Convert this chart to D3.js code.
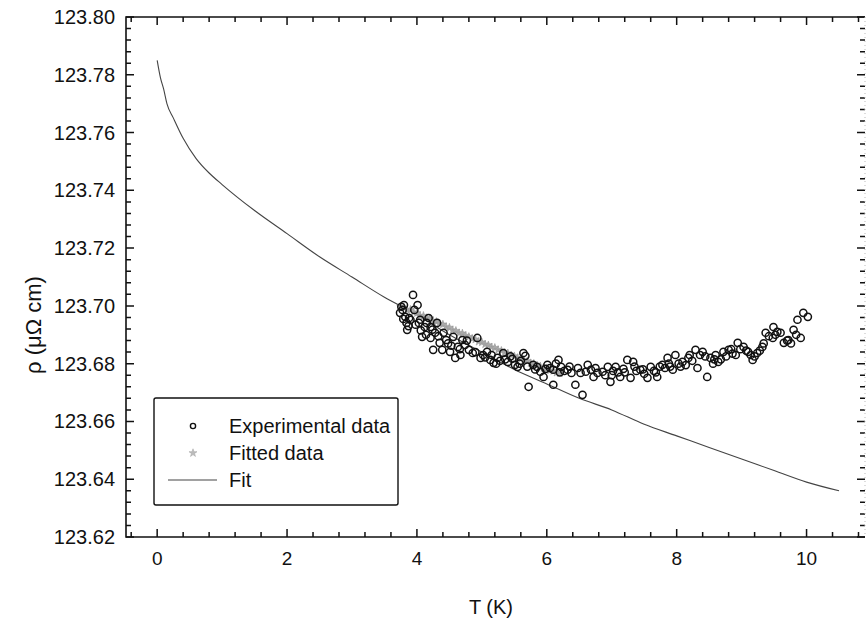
<!DOCTYPE html>
<html>
<head>
<meta charset="utf-8">
<script src="https://cdn.jsdelivr.net/npm/d3@7/dist/d3.min.js"></script>
<style>
  html, body { margin: 0; padding: 0; background: #fff; }
  svg { display: block; font-family: "Liberation Sans", Arial, sans-serif; }
</style>
</head>
<body>
<svg id="chart" width="866" height="623"></svg>
<script>
// Resistivity vs temperature: measured points, points used in the fit, and the fit curve.

const expT = [3.74, 3.76, 3.78, 3.80, 3.82, 3.84, 3.85, 3.88, 3.90, 3.94, 3.96, 4.01, 4.03, 4.05, 4.08,
  4.12, 4.15, 4.18, 4.21, 4.21, 4.25, 4.28, 4.31, 4.35, 4.39, 4.41, 4.45, 4.51, 4.56, 4.59, 4.63, 4.67,
  4.70, 4.74, 4.80, 4.86, 4.93, 4.98, 5.02, 5.08, 5.13, 5.18, 5.24, 5.28, 5.33, 5.40, 5.47, 5.51, 5.55,
  5.60, 5.64, 5.67, 5.72, 5.79, 5.85, 5.90, 5.95, 6.01, 6.05, 6.10, 6.10, 6.14, 6.18, 6.22, 6.27, 6.32,
  6.38, 6.44, 6.48, 6.52, 6.55, 6.63, 6.68, 6.72, 6.78, 6.86, 6.90, 6.94, 6.98, 7.02, 7.06, 7.10, 7.13,
  7.18, 7.24, 7.29, 7.33, 7.38, 7.44, 7.50, 7.55, 7.60, 7.65, 7.70, 7.74, 7.78, 7.82, 7.86, 7.90, 7.94,
  7.98, 8.03, 8.09, 8.14, 8.18, 8.24, 8.29, 8.32, 8.36, 8.40, 8.47, 8.52, 8.56, 8.60, 8.64, 8.68, 8.72,
  8.76, 8.80, 8.86, 8.91, 8.94, 8.98, 9.03, 9.07, 9.10, 9.17, 9.20, 9.24, 9.28, 9.32, 9.37, 9.42, 9.48,
  9.49, 9.55, 9.60, 9.65, 9.72, 9.76, 9.80, 9.86, 9.91, 9.95, 10.02,
  3.79, 3.87, 3.98, 4.06, 4.14, 4.24, 4.33, 4.48, 4.53, 4.66, 4.77, 4.90, 5.05, 5.15, 5.22, 5.36, 5.44,
  5.58, 5.70, 5.82, 5.98, 6.20, 6.35, 6.60, 6.75, 7.00, 7.20, 7.35, 7.48, 7.68, 7.88, 8.06, 8.20, 8.44,
  8.58, 8.84, 9.14, 9.34, 9.52, 9.70, 9.84];
const expRho = [123.6976, 123.6997, 123.6986, 123.7003, 123.6962, 123.6941, 123.6917, 123.6958, 123.6952,
  123.7038, 123.6986, 123.7003, 123.6941, 123.6952, 123.6893, 123.6927, 123.6941, 123.6958, 123.6927,
  123.6889, 123.6848, 123.6907, 123.6941, 123.6872, 123.6848, 123.6907, 123.6882, 123.6841, 123.6893,
  123.6820, 123.6858, 123.6830, 123.6882, 123.6865, 123.6848, 123.6837, 123.6889, 123.6820, 123.6830,
  123.6841, 123.6813, 123.6803, 123.6820, 123.6810, 123.6837, 123.6806, 123.6817, 123.6796, 123.6789,
  123.6810, 123.6837, 123.6827, 123.6720, 123.6796, 123.6789, 123.6772, 123.6754, 123.6796, 123.6785,
  123.6779, 123.6727, 123.6800, 123.6813, 123.6789, 123.6775, 123.6779, 123.6768, 123.6727, 123.6785,
  123.6768, 123.6692, 123.6796, 123.6779, 123.6754, 123.6768, 123.6772, 123.6760, 123.6789, 123.6737,
  123.6775, 123.6789, 123.6770, 123.6754, 123.6782, 123.6813, 123.6751, 123.6806, 123.6775, 123.6779,
  123.6765, 123.6751, 123.6789, 123.6775, 123.6754, 123.6790, 123.6796, 123.6785, 123.6820, 123.6790,
  123.6779, 123.6830, 123.6800, 123.6806, 123.6795, 123.6820, 123.6810, 123.6848, 123.6785, 123.6830,
  123.6841, 123.6754, 123.6820, 123.6800, 123.6830, 123.6806, 123.6815, 123.6841, 123.6825, 123.6848,
  123.6835, 123.6830, 123.6872, 123.6850, 123.6858, 123.6845, 123.6841, 123.6813, 123.6825, 123.6837,
  123.6845, 123.6858, 123.6907, 123.6895, 123.6889, 123.6927, 123.6910, 123.6907, 123.6872, 123.6882,
  123.6870, 123.6917, 123.6952, 123.6889, 123.6976, 123.6962,
  123.6955, 123.6930, 123.6935, 123.6915, 123.6900, 123.6918, 123.6895, 123.6870, 123.6862, 123.6850,
  123.6880, 123.6840, 123.6822, 123.6830, 123.6800, 123.6815, 123.6825, 123.6800, 123.6790, 123.6780,
  123.6782, 123.6770, 123.6790, 123.6772, 123.6785, 123.6760, 123.6770, 123.6790, 123.6780, 123.6770,
  123.6800, 123.6790, 123.6830, 123.6825, 123.6815, 123.6850, 123.6830, 123.6870, 123.6900, 123.6880,
  123.6900];

const fittedT = [3.75, 3.80, 3.85, 3.90, 3.95, 4.00, 4.05, 4.10, 4.15, 4.20, 4.25, 4.30, 4.35, 4.40, 4.45,
  4.50, 4.55, 4.60, 4.65, 4.70, 4.75, 4.80, 4.85, 4.90, 4.95, 5.00, 5.05, 5.10, 5.15, 5.20, 5.25, 5.30,
  5.35, 5.40, 5.45, 5.50, 5.55, 5.60, 5.65, 5.70, 5.75, 5.80, 5.85, 5.90, 5.95, 6.00, 6.05, 6.10, 6.15, 6.20];
const fittedRho = [123.6998, 123.6994, 123.6985, 123.6987, 123.6978, 123.6975, 123.6965, 123.6966, 123.6958,
  123.6957, 123.6948, 123.6945, 123.6938, 123.6936, 123.6927, 123.6925, 123.6916, 123.6914, 123.6906,
  123.6905, 123.6897, 123.6893, 123.6887, 123.6884, 123.6876, 123.6874, 123.6867, 123.6864, 123.6857,
  123.6855, 123.6848, 123.6845, 123.6838, 123.6836, 123.6829, 123.6826, 123.6820, 123.6818, 123.6811,
  123.6809, 123.6802, 123.6800, 123.6794, 123.6791, 123.6785, 123.6783, 123.6777, 123.6775, 123.6769, 123.6767];

const fitT = [0, 0.05, 0.1, 0.15, 0.25, 0.4, 0.6, 0.8, 1.0, 1.5, 2.0, 2.5, 3.0, 3.5, 4.0, 4.5, 5.0, 5.5,
  6.0, 6.5, 7.0, 7.5, 8.0, 8.5, 9.0, 9.5, 10.0, 10.5];
const fitRho = [123.785, 123.779, 123.775, 123.770, 123.765, 123.758, 123.751, 123.746, 123.742, 123.733,
  123.725, 123.717, 123.710, 123.703, 123.697, 123.690, 123.684, 123.678, 123.673, 123.668, 123.664,
  123.659, 123.655, 123.651, 123.647, 123.643, 123.639, 123.636];

const xMajor = [0, 2, 4, 6, 8, 10];
const yMajor = [123.62, 123.64, 123.66, 123.68, 123.70, 123.72, 123.74, 123.76, 123.78, 123.80];
const legendLabels = ["Experimental data", "Fitted data", "Fit"];

const svg = d3.select("#chart");
const pLeft = 126, pRight = 865, pTop = 17, pBottom = 537;

const x = d3.scaleLinear().domain([-0.48, 10.9]).range([pLeft, pRight]);
const y = d3.scaleLinear().domain([123.62, 123.80]).range([pBottom, pTop]);

const xMinor = d3.range(-0.4, 10.9, 0.4).map(v => +v.toFixed(1));
const yMinor = d3.range(123.62, 123.8001, 0.004).map(v => +v.toFixed(3));

// Inward-pointing ticks on all four sides of the frame, built as one path
const tickPath = d3.path();
function xTicks(values, len) {
  values.forEach(v => {
    const px = x(v);
    tickPath.moveTo(px, pBottom); tickPath.lineTo(px, pBottom - len);
    tickPath.moveTo(px, pTop); tickPath.lineTo(px, pTop + len);
  });
}
function yTicks(values, len) {
  values.forEach(v => {
    const py = y(v);
    tickPath.moveTo(pLeft, py); tickPath.lineTo(pLeft + len, py);
    tickPath.moveTo(pRight, py); tickPath.lineTo(pRight - len, py);
  });
}
xTicks(xMinor, 5); xTicks(xMajor, 8);
yTicks(yMinor, 5); yTicks(yMajor, 8);
svg.append("path").attr("d", tickPath.toString())
  .attr("fill", "none").attr("stroke", "#111").attr("stroke-width", 1.5);

// Frame
svg.append("path")
  .attr("d", `M${pRight},${pTop}H${pLeft}V${pBottom}H${pRight}`)
  .attr("fill", "none").attr("stroke", "#111").attr("stroke-width", 1.6);
svg.append("line")
  .attr("x1", pRight).attr("x2", pRight).attr("y1", pTop).attr("y2", pBottom)
  .attr("stroke", "#bbb").attr("stroke-width", 1).attr("stroke-dasharray", "1,3");

// Tick labels
svg.append("g").selectAll("text").data(xMajor).join("text")
  .attr("x", d => x(d)).attr("y", 565)
  .attr("text-anchor", "middle").attr("font-size", 19).attr("fill", "#111")
  .text(d => d);
svg.append("g").selectAll("text").data(yMajor).join("text")
  .attr("x", 115).attr("y", d => y(d) + 7)
  .attr("text-anchor", "end").attr("font-size", 20).attr("fill", "#111")
  .text(d => d.toFixed(2));

// Axis titles
svg.append("text").attr("x", 491).attr("y", 614).attr("text-anchor", "middle")
  .attr("font-size", 20).attr("fill", "#111").text("T (K)");
svg.append("text").attr("transform", "translate(41,325) rotate(-90)").attr("text-anchor", "middle")
  .attr("font-size", 22).attr("fill", "#111").text("ρ (μΩ cm)");

// Fit curve
const line = d3.line().x((d, i) => x(fitT[i])).y(d => y(d)).curve(d3.curveMonotoneX);
svg.append("path").datum(fitRho).attr("d", line)
  .attr("fill", "none").attr("stroke", "#444").attr("stroke-width", 1.1);

// Points used in the fit
const star = d3.symbol().type(d3.symbolStar).size(20);
svg.append("g").selectAll("path").data(fittedRho).join("path")
  .attr("transform", (d, i) => `translate(${x(fittedT[i])},${y(d)})`)
  .attr("d", star).attr("fill", "#aaa").attr("stroke", "#999").attr("stroke-width", 0.6);

// Measured points
svg.append("g").selectAll("circle").data(expRho).join("circle")
  .attr("cx", (d, i) => x(expT[i])).attr("cy", d => y(d)).attr("r", 3.6)
  .attr("fill", "none").attr("stroke", "#111").attr("stroke-width", 1.5);

// Legend
const lg = svg.append("g");
lg.append("rect").attr("x", 154).attr("y", 398).attr("width", 244).attr("height", 107).attr("rx", 2)
  .attr("fill", "#fff").attr("stroke", "#111").attr("stroke-width", 1.4);
const rows = [426, 453, 480];
lg.selectAll("text").data(legendLabels).join("text")
  .attr("x", 229).attr("y", (d, i) => rows[i] + 7)
  .attr("font-size", 20).attr("fill", "#111").text(d => d);
lg.append("circle").attr("cx", 193).attr("cy", rows[0]).attr("r", 2.6)
  .attr("fill", "none").attr("stroke", "#111").attr("stroke-width", 1.4);
lg.append("path").attr("transform", `translate(193,${rows[1]})`).attr("d", star)
  .attr("fill", "#bbb").attr("stroke", "#aaa").attr("stroke-width", 0.6);
lg.append("line").attr("x1", 168).attr("x2", 217).attr("y1", rows[2]).attr("y2", rows[2])
  .attr("stroke", "#444").attr("stroke-width", 1.1);
</script>
</body>
</html>
